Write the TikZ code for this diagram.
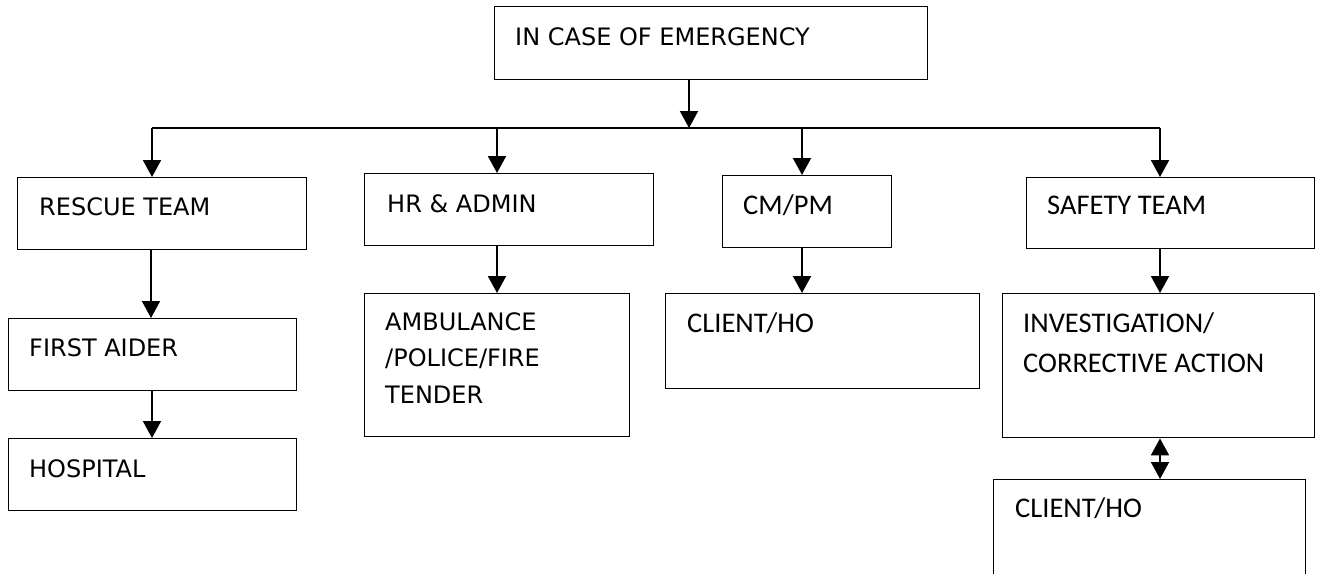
\documentclass[tikz,border=0pt]{standalone}
\usepackage{fontspec}
\usetikzlibrary{arrows.meta}
\newfontfamily\tahomalike{DejaVu Sans}
\newfontfamily\calibrilike{Carlito}
\tikzset{
  box/.style={draw=black, line width=1.4pt, anchor=north west, inner sep=0pt},
  ta/.style={anchor=base west, inner sep=0pt, font=\tahomalike\fontsize{24}{29}\selectfont},
  ca/.style={anchor=base west, inner sep=0pt, font=\calibrilike\fontsize{28.5}{34}\selectfont},
  arr/.style={line width=2pt, -{Triangle[length=17pt,width=18pt]}},
  darr/.style={line width=2pt, {Triangle[length=17pt,width=18pt]}-{Triangle[length=17pt,width=18pt]}},
  bus/.style={line width=1.8pt}
}
\begin{document}
\begin{tikzpicture}[x=1pt,y=-1pt]
\useasboundingbox (0,0) rectangle (1319,573);
\clip (0,0) rectangle (1319,573);
% boxes
\node[box, minimum width=433pt, minimum height=73pt] (top) at (494,6) {};
\node[box, minimum width=289pt, minimum height=72pt] (rescue) at (17,177) {};
\node[box, minimum width=288pt, minimum height=72pt] (first) at (8,318) {};
\node[box, minimum width=288pt, minimum height=72pt] (hosp) at (8,438) {};
\node[box, minimum width=289pt, minimum height=72pt] (hr) at (364,173) {};
\node[box, minimum width=265pt, minimum height=143pt] (amb) at (364,293) {};
\node[box, minimum width=169pt, minimum height=72pt] (cm) at (722,175) {};
\node[box, minimum width=314pt, minimum height=95pt] (cli1) at (665,293) {};
\node[box, minimum width=288pt, minimum height=71pt] (safe) at (1026,177) {};
\node[box, minimum width=312pt, minimum height=144pt] (inv) at (1002,293) {};
\node[box, minimum width=312pt, minimum height=150pt] (cli2) at (993,479) {};
% texts
\node[ta] (ttop) at (515,45) {IN CASE OF EMERGENCY};
\node[ta] (trescue) at (39,215) {RESCUE TEAM};
\node[ta] (tfirst) at (29,356) {FIRST AIDER};
\node[ta] (thosp) at (29,477) {HOSPITAL};
\node[ta] (thr) at (387,212) {HR \& ADMIN};
\node[ta] (tamb1) at (385,330) {AMBULANCE};
\node[ta] (tamb2) at (385,366) {/POLICE/FIRE};
\node[ta] (tamb3) at (385,403) {TENDER};
\node[ca] (tcm) at (743,214) {CM/PM};
\node[ca] (tcli1) at (687,332) {CLIENT/HO};
\node[ca] (tsafe) at (1047,214) {SAFETY TEAM};
\node[ca] (tinv1) at (1023,332) {INVESTIGATION/};
\node[ca] (tinv2) at (1023,372) {CORRECTIVE ACTION};
\node[ca] (tcli2) at (1015,517) {CLIENT/HO};
% bus
\coordinate (tdrop) at (689,128);
\coordinate (b1) at (152,128);
\coordinate (b2) at (497,128);
\coordinate (b3) at (802,128);
\coordinate (b4) at (1160,128);
\draw[arr] (tdrop |- top.south) -- (tdrop);
\draw[bus] (b1) -- (b4);
\draw[arr] (b1) -- (b1 |- rescue.north);
\draw[arr] (b2) -- (b2 |- hr.north);
\draw[arr] (b3) -- (b3 |- cm.north);
\draw[arr] (b4) -- (b4 |- safe.north);
% chains
\draw[arr] ([xshift=134pt]rescue.south west) -- ([xshift=143pt]first.north west);
\draw[arr] ([xshift=144pt]first.south west) -- ([xshift=144pt]hosp.north west);
\draw[arr] (b2 |- hr.south) -- (b2 |- amb.north);
\draw[arr] (b3 |- cm.south) -- (b3 |- cli1.north);
\draw[arr] (b4 |- safe.south) -- (b4 |- inv.north);
\draw[darr] (b4 |- inv.south) -- (b4 |- cli2.north);
\end{tikzpicture}
\end{document}
